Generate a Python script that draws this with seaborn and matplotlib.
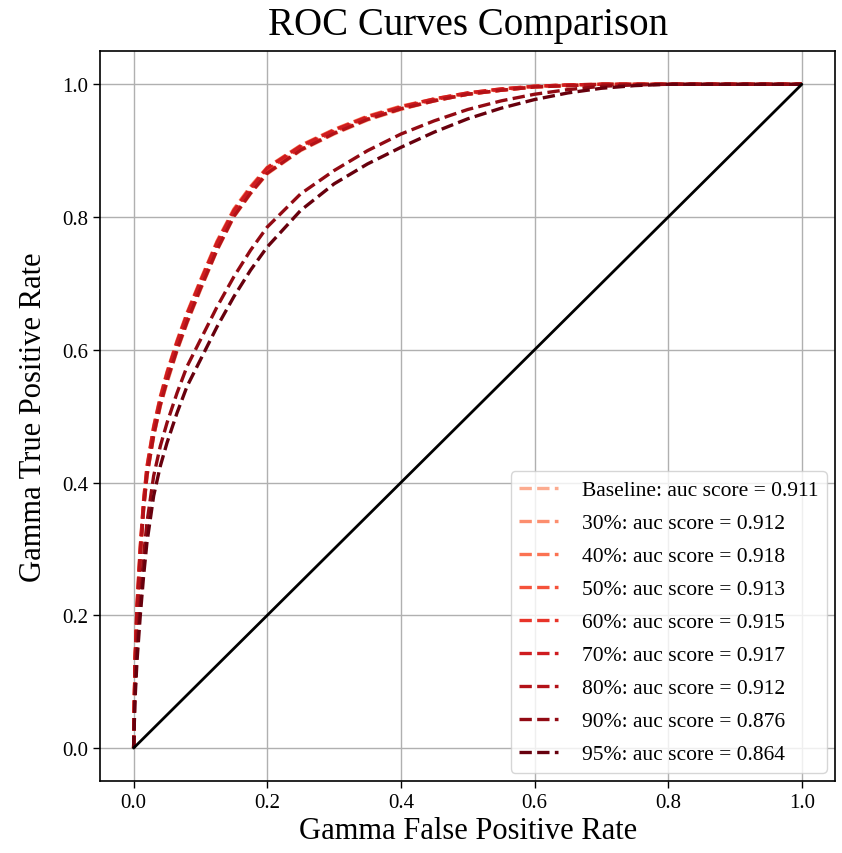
import numpy as np
import pandas as pd
import seaborn as sns
import matplotlib.pyplot as plt

# Data
fpr = [0.0, 0.002, 0.005, 0.01, 0.015, 0.02, 0.03, 0.04, 0.05, 0.065, 0.08, 0.1,
       0.125, 0.15, 0.175, 0.2, 0.25, 0.3, 0.35, 0.4, 0.45, 0.5, 0.55, 0.6,
       0.65, 0.7, 0.75, 0.8, 0.9, 1.0]

labels = ['Baseline', '30%', '40%', '50%', '60%', '70%', '80%', '90%', '95%']
auc_scores = [0.911, 0.912, 0.918, 0.913, 0.915, 0.917, 0.912, 0.876, 0.864]

tpr_baseline = [0.0, 0.12, 0.20, 0.29, 0.36, 0.41, 0.47, 0.515, 0.55, 0.598, 0.64, 0.69,
                0.75, 0.80, 0.835, 0.865, 0.90, 0.925, 0.946, 0.962, 0.975, 0.985, 0.991, 0.996,
                0.998, 1.0, 1.0, 1.0, 1.0, 1.0]
tpr_30 = [0.0, 0.12, 0.20, 0.29, 0.36, 0.41, 0.47, 0.516, 0.552, 0.60, 0.642, 0.692,
          0.751, 0.801, 0.836, 0.866, 0.901, 0.926, 0.947, 0.963, 0.975, 0.985, 0.991, 0.996,
          0.998, 1.0, 1.0, 1.0, 1.0, 1.0]
tpr_40 = [0.0, 0.13, 0.215, 0.305, 0.375, 0.425, 0.485, 0.53, 0.567, 0.614, 0.656, 0.705,
          0.764, 0.812, 0.846, 0.875, 0.908, 0.932, 0.952, 0.967, 0.978, 0.987, 0.993, 0.997,
          0.999, 1.0, 1.0, 1.0, 1.0, 1.0]
tpr_50 = [0.0, 0.122, 0.203, 0.294, 0.364, 0.414, 0.474, 0.52, 0.556, 0.603, 0.645, 0.695,
          0.754, 0.803, 0.838, 0.868, 0.902, 0.927, 0.948, 0.963, 0.976, 0.985, 0.991, 0.996,
          0.998, 1.0, 1.0, 1.0, 1.0, 1.0]
tpr_60 = [0.0, 0.125, 0.208, 0.298, 0.368, 0.418, 0.478, 0.524, 0.56, 0.607, 0.649, 0.699,
          0.758, 0.807, 0.841, 0.871, 0.905, 0.929, 0.95, 0.965, 0.977, 0.986, 0.992, 0.997,
          0.999, 1.0, 1.0, 1.0, 1.0, 1.0]
tpr_70 = [0.0, 0.128, 0.212, 0.303, 0.373, 0.423, 0.483, 0.528, 0.565, 0.612, 0.654, 0.703,
          0.762, 0.81, 0.844, 0.874, 0.907, 0.931, 0.951, 0.966, 0.978, 0.987, 0.993, 0.997,
          0.999, 1.0, 1.0, 1.0, 1.0, 1.0]
tpr_80 = [0.0, 0.12, 0.201, 0.291, 0.361, 0.411, 0.471, 0.517, 0.553, 0.60, 0.642, 0.692,
          0.751, 0.801, 0.836, 0.866, 0.901, 0.926, 0.947, 0.963, 0.975, 0.985, 0.991, 0.996,
          0.998, 1.0, 1.0, 1.0, 1.0, 1.0]
tpr_90 = [0.0, 0.08, 0.15, 0.22, 0.29, 0.34, 0.41, 0.455, 0.49, 0.535, 0.575, 0.615,
          0.665, 0.71, 0.75, 0.785, 0.835, 0.87, 0.90, 0.925, 0.945, 0.962, 0.975, 0.985,
          0.992, 0.997, 0.999, 1.0, 1.0, 1.0]
tpr_95 = [0.0, 0.07, 0.13, 0.20, 0.26, 0.31, 0.38, 0.425, 0.46, 0.505, 0.545, 0.585,
          0.635, 0.68, 0.72, 0.755, 0.81, 0.85, 0.88, 0.905, 0.928, 0.948, 0.964, 0.977,
          0.987, 0.994, 0.998, 1.0, 1.0, 1.0]

tprs = [tpr_baseline, tpr_30, tpr_40, tpr_50, tpr_60, tpr_70, tpr_80, tpr_90, tpr_95]

# Style
sns.set_style('ticks')
plt.rcParams['font.family'] = ['Liberation Serif', 'DejaVu Serif']
plt.rcParams['text.color'] = 'black'
plt.rcParams['axes.labelcolor'] = 'black'
plt.rcParams['xtick.color'] = 'black'
plt.rcParams['ytick.color'] = 'black'

cmap = sns.color_palette('Reds', as_cmap=True)
colors = [cmap(v) for v in np.linspace(0.3, 1.0, len(labels))]

fig = plt.figure(figsize=(8.42, 8.54), dpi=100)
ax = fig.add_axes([0.119, 0.084, 0.873, 0.855])

for label, auc, tpr, c in zip(labels, auc_scores, tprs, colors):
    df = pd.DataFrame({'fpr': fpr, 'tpr': tpr})
    sns.lineplot(data=df, x='fpr', y='tpr', ax=ax, color=c, linestyle='--',
                 linewidth=2.4, estimator=None, sort=False,
                 label='{}: auc score = {:.3f}'.format(label, auc))

# Diagonal
sns.lineplot(x=[0, 1], y=[0, 1], ax=ax, color='black', linewidth=2, estimator=None)

ax.set_xlim(-0.05, 1.05)
ax.set_ylim(-0.05, 1.05)
ax.grid(True, color='#b0b0b0', linewidth=1)
ax.set_axisbelow(True)
for s in ax.spines.values():
    s.set_color('black')
    s.set_linewidth(1.2)
ax.tick_params(labelsize=15, direction='out', length=5, width=1)
ax.set_xlabel('Gamma False Positive Rate', fontsize=22, labelpad=3)
ax.set_ylabel('Gamma True Positive Rate', fontsize=22, labelpad=10)
ax.set_title('ROC Curves Comparison', fontsize=28, pad=12)
ax.legend(loc='lower right', fontsize=15.5, frameon=True, handlelength=1.8,
          handletextpad=1.1, labelspacing=0.6, borderaxespad=0.4)

fig.savefig('out.png', dpi=100)
